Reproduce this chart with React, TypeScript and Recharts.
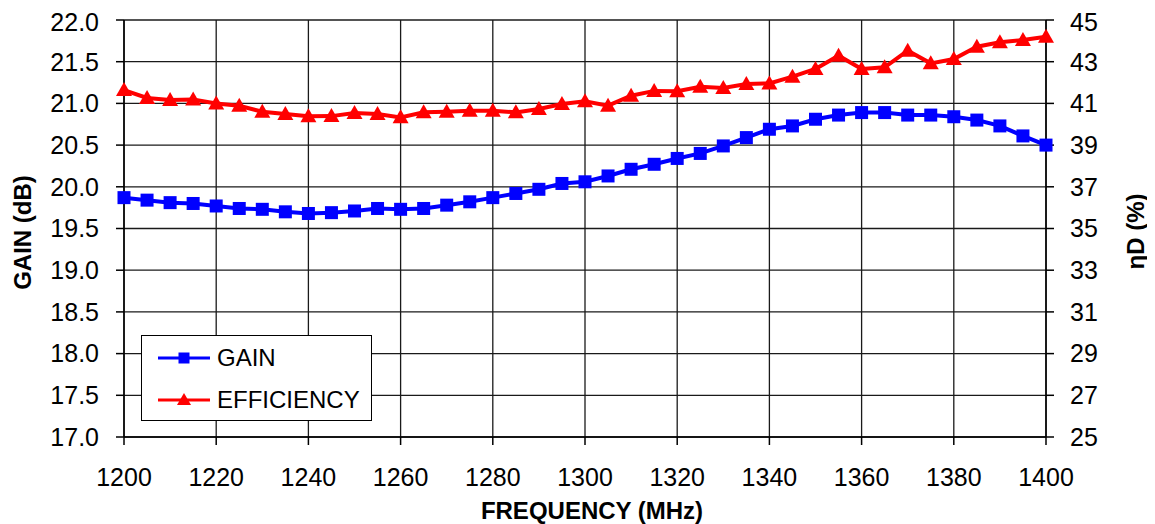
import { CartesianGrid, Legend, Line, LineChart, XAxis, YAxis } from 'recharts'

const freqs = [
  1200, 1205, 1210, 1215, 1220, 1225, 1230, 1235, 1240, 1245, 1250, 1255, 1260, 1265, 1270, 1275, 1280,
  1285, 1290, 1295, 1300, 1305, 1310, 1315, 1320, 1325, 1330, 1335, 1340, 1345, 1350, 1355, 1360, 1365,
  1370, 1375, 1380, 1385, 1390, 1395, 1400,
]
const gain = [
  19.87, 19.84, 19.81, 19.8, 19.77, 19.74, 19.73, 19.7, 19.68, 19.69, 19.71, 19.74, 19.73, 19.74, 19.78,
  19.82, 19.87, 19.92, 19.97, 20.04, 20.06, 20.13, 20.21, 20.27, 20.34, 20.4, 20.49, 20.59, 20.69, 20.73,
  20.81, 20.86, 20.89, 20.89, 20.86, 20.86, 20.84, 20.8, 20.73, 20.61, 20.5,
]
const efficiency = [
  41.64, 41.26, 41.16, 41.19, 41.0, 40.89, 40.6, 40.49, 40.38, 40.39, 40.54, 40.49, 40.33, 40.57, 40.6,
  40.65, 40.65, 40.57, 40.73, 40.97, 41.1, 40.89, 41.37, 41.6, 41.58, 41.8, 41.74, 41.93, 41.96, 42.28,
  42.65, 43.29, 42.65, 42.73, 43.53, 42.92, 43.13, 43.72, 43.93, 44.04, 44.2,
]
const freqTicks = [1200, 1220, 1240, 1260, 1280, 1300, 1320, 1340, 1360, 1380, 1400]
const gainTicks = [17, 17.5, 18, 18.5, 19, 19.5, 20, 20.5, 21, 21.5, 22]
const effTicks = [25, 27, 29, 31, 33, 35, 37, 39, 41, 43, 45]

const data = freqs.map((f, i) => ({ f, gain: gain[i], eff: efficiency[i] }))

const BLUE = '#0000ff'
const RED = '#ff0000'
const tickStyle = { fontSize: 25, fill: '#000' }

function SquareDot(props: any) {
  const { cx, cy, index } = props
  if (cx == null || cy == null) return null
  return <rect key={`s${index}`} x={cx - 6.5} y={cy - 6.5} width={13} height={13} fill={BLUE} />
}

function TriangleDot(props: any) {
  const { cx, cy, index } = props
  if (cx == null || cy == null) return null
  return (
    <polygon
      key={`t${index}`}
      points={`${cx},${cy - 8} ${cx + 8},${cy + 6} ${cx - 8},${cy + 6}`}
      fill={RED}
    />
  )
}

function LegendBox() {
  const row = (y: number, color: string, label: string, marker: 'sq' | 'tri') => (
    <div style={{ position: 'absolute', left: 0, top: y - 15, height: 30, width: '100%' }}>
      <svg width={70} height={30} style={{ position: 'absolute', left: 14, top: 0 }}>
        <line x1={2} y1={15} x2={54} y2={15} stroke={color} strokeWidth={3} />
        {marker === 'sq' ? (
          <rect x={22.5} y={9.5} width={11} height={11} fill={color} />
        ) : (
          <polygon points="28,8 35,20 21,20" fill={color} />
        )}
      </svg>
      <span style={{ position: 'absolute', left: 75, top: 1, fontSize: 24, lineHeight: '28px', color: '#000' }}>
        {label}
      </span>
    </div>
  )
  return (
    <div
      style={{
        position: 'relative',
        width: 231,
        height: 86,
        boxSizing: 'border-box',
        border: '1.5px solid #000',
        background: '#fff',
      }}
    >
      {row(22, BLUE, 'GAIN', 'sq')}
      {row(64, RED, 'EFFICIENCY', 'tri')}
    </div>
  )
}

export default function App() {
  return (
    <div style={{ fontFamily: '"Liberation Sans", Arial, sans-serif' }}>
      <LineChart width={1147} height={516} data={data} margin={{ top: 12, right: 39, left: 0, bottom: 37 }}>
        <CartesianGrid yAxisId="left" stroke="#1a1a1a" strokeWidth={1.3} ticks={gainTicks as any} />
        <XAxis
          dataKey="f"
          type="number"
          domain={[1200, 1400]}
          ticks={freqTicks}
          height={50}
          tickSize={8}
          tickMargin={23}
          tick={tickStyle}
          stroke="#000"
          strokeWidth={1.5}
          label={{ value: 'FREQUENCY  (MHz)', position: 'center', dx: 7, dy: 48, fontSize: 24, fontWeight: 'bold', fill: '#000' }}
        />
        <YAxis
          yAxisId="left"
          domain={[17, 22]}
          ticks={gainTicks}
          width={116}
          tickSize={8}
          tickMargin={17}
          tick={tickStyle}
          tickFormatter={(v: number) => v.toFixed(1)}
          stroke="#000"
          strokeWidth={1.5}
          label={{ value: 'GAIN (dB)', angle: -90, position: 'center', dx: -44, dy: 4, fontSize: 24, fontWeight: 'bold', fill: '#000' }}
        />
        <YAxis
          yAxisId="right"
          orientation="right"
          domain={[25, 45]}
          ticks={effTicks}
          width={70}
          tickSize={8}
          tickMargin={16}
          tick={tickStyle}
          stroke="#000"
          strokeWidth={1.5}
          label={{ value: 'ηD (%)', angle: -90, position: 'center', dx: 54, dy: 3, fontSize: 24, fontWeight: 'bold', fill: '#000' }}
        />
        <Legend
          layout="vertical"
          align="center"
          verticalAlign="middle"
          wrapperStyle={{ left: 133, top: 327, width: 231, height: 86 }}
          content={() => <LegendBox />}
        />
        <Line
          yAxisId="right"
          dataKey="eff"
          stroke={RED}
          strokeWidth={4}
          dot={TriangleDot}
          activeDot={false}
          isAnimationActive={false}
        />
        <Line
          yAxisId="left"
          dataKey="gain"
          stroke={BLUE}
          strokeWidth={4}
          dot={SquareDot}
          activeDot={false}
          isAnimationActive={false}
        />
      </LineChart>
    </div>
  )
}
